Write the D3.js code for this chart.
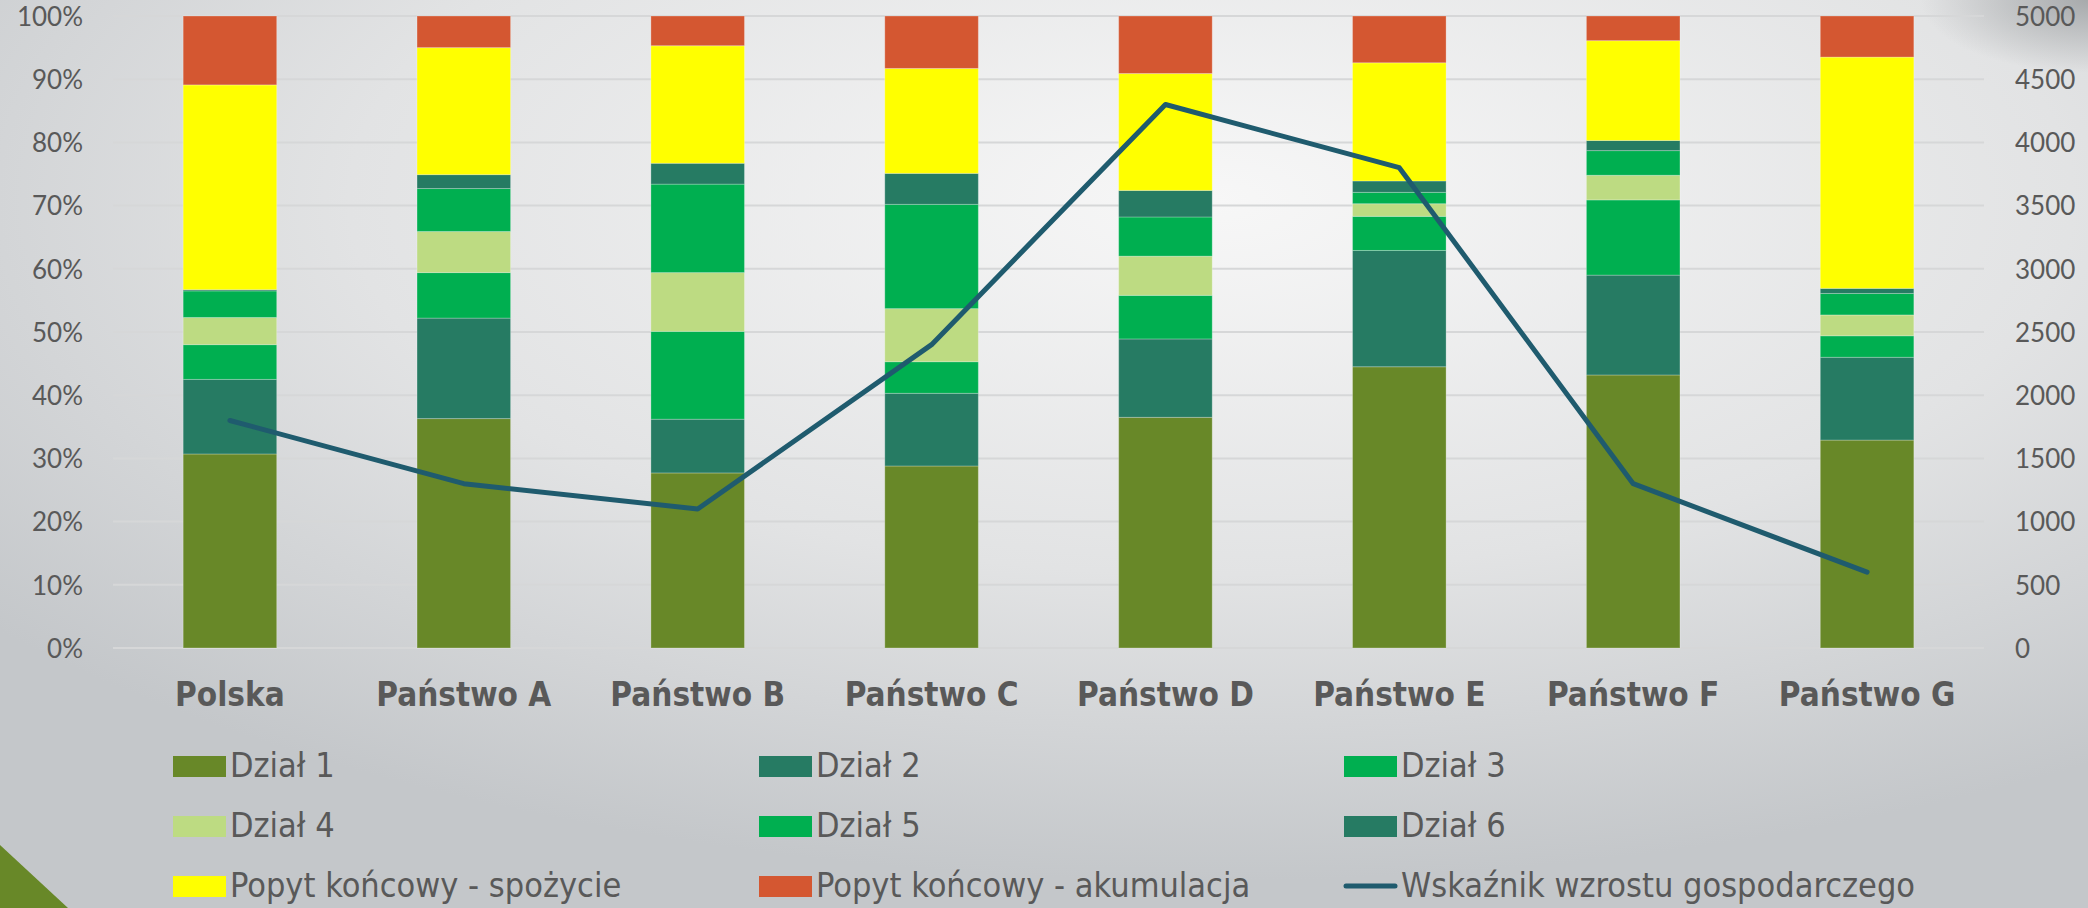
<!DOCTYPE html>
<html>
<head>
<meta charset="utf-8">
<script src="https://cdn.jsdelivr.net/npm/d3@7"></script>
<style>
  html, body { margin: 0; padding: 0; overflow: hidden; }
  body { width: 2088px; height: 908px; }
</style>
</head>
<body>
<div id="chart"></div>
<script>
// chart data (shares in %)
var categories = ["Polska", "Państwo A", "Państwo B", "Państwo C", "Państwo D", "Państwo E", "Państwo F", "Państwo G"];
var dzial1 = [30.7, 36.3, 27.7, 28.8, 36.5, 44.5, 43.2, 32.9];
var dzial2 = [11.8, 15.9, 8.5, 11.5, 12.4, 18.4, 15.8, 13.1];
var dzial3 = [5.5, 7.2, 13.9, 5.0, 6.9, 5.4, 11.9, 3.4];
var dzial4 = [4.3, 6.5, 9.3, 8.4, 6.2, 2.0, 3.9, 3.3];
var dzial5 = [4.2, 6.8, 14.0, 16.5, 6.2, 1.8, 3.9, 3.4];
var dzial6 = [0.2, 2.2, 3.3, 4.9, 4.2, 1.8, 1.6, 0.8];
var spozycie = [32.4, 20.1, 18.6, 16.6, 18.5, 18.7, 15.8, 36.6];
var akumulacja = [10.9, 5.0, 4.7, 8.3, 9.1, 7.4, 3.9, 6.5];
var wzrost = [1800, 1300, 1100, 2400, 4300, 3800, 1300, 600];

var seriesNames = ["Dział 1", "Dział 2", "Dział 3", "Dział 4", "Dział 5", "Dział 6",
                   "Popyt końcowy - spożycie", "Popyt końcowy - akumulacja"];
var seriesData = [dzial1, dzial2, dzial3, dzial4, dzial5, dzial6, spozycie, akumulacja];
var lineName = "Wskaźnik wzrostu gospodarczego";
var leftTicks = [0, .1, .2, .3, .4, .5, .6, .7, .8, .9, 1];
var rightTicks = [0, 500, 1000, 1500, 2000, 2500, 3000, 3500, 4000, 4500, 5000];

var colors = ["#688828", "#267b63", "#00af50", "#bddb82", "#00af50", "#267b63", "#ffff00", "#d45731"];
var lineColor = "#1f5b6e";
var textColor = "#595959";

var width = 2088, height = 908;
var margin = {top: 16, right: 104, bottom: 260, left: 113};

// build rows for d3.stack
var table = categories.map(function(c, i) {
    var row = {cat: c};
    seriesNames.forEach(function(s, j) { row[s] = seriesData[j][i]; });
    return row;
});

var stack = d3.stack().keys(seriesNames).offset(d3.stackOffsetExpand);
var layers = stack(table);

var svg = d3.select("#chart").append("svg")
    .attr("width", width)
    .attr("height", height);

// background
var defs = svg.append("defs");
var bg = defs.append("radialGradient").attr("id", "bg")
    .attr("cx", "58%").attr("cy", "22%").attr("r", "75%");
bg.append("stop").attr("offset", "0%").attr("stop-color", "#f7f7f7");
bg.append("stop").attr("offset", "55%").attr("stop-color", "#e2e3e4");
bg.append("stop").attr("offset", "100%").attr("stop-color", "#c4c7ca");
svg.append("rect").attr("width", width).attr("height", height).attr("fill", "url(#bg)");

var corner = defs.append("radialGradient").attr("id", "corner")
    .attr("cx", "100%").attr("cy", "0%").attr("r", "8%");
corner.append("stop").attr("offset", "0%").attr("stop-color", "#9a9d9f").attr("stop-opacity", 0.8);
corner.append("stop").attr("offset", "100%").attr("stop-color", "#9a9d9f").attr("stop-opacity", 0);
svg.append("rect").attr("width", width).attr("height", height).attr("fill", "url(#corner)");

// green slide corner
svg.append("path")
    .attr("d", "M0,845L68," + height + "L0," + height + "Z")
    .attr("fill", "#688828");

var x = d3.scaleBand()
    .domain(categories)
    .range([margin.left, width - margin.right])
    .paddingInner(0.6)
    .paddingOuter(0.3);

var y = d3.scaleLinear().domain([0, 1]).range([height - margin.bottom, margin.top]);
var y2 = d3.scaleLinear().domain([0, 5000]).range([height - margin.bottom, margin.top]);

// gridlines
svg.append("g")
    .selectAll("line")
    .data(leftTicks)
    .enter().append("line")
    .attr("x1", margin.left)
    .attr("x2", width - margin.right)
    .attr("y1", function(d) { return y(d); })
    .attr("y2", function(d) { return y(d); })
    .attr("stroke", "#d6d7d8")
    .attr("stroke-width", 2);

// stacked bars
svg.append("g")
    .selectAll("g")
    .data(layers)
    .enter().append("g")
    .attr("fill", function(d, i) { return colors[i]; })
    .selectAll("rect")
    .data(function(d) { return d; })
    .enter().append("rect")
    .attr("x", function(d) { return x(d.data.cat); })
    .attr("width", x.bandwidth())
    .attr("y", function(d) { return y(d[1]); })
    .attr("height", function(d) { return y(d[0]) - y(d[1]); })
    .attr("stroke", "rgba(255,255,255,0.25)")
    .attr("stroke-width", 1);

// line series on right axis
var line = d3.line()
    .x(function(d, i) { return x(categories[i]) + x.bandwidth() / 2; })
    .y(function(d) { return y2(d); });

svg.append("path")
    .datum(wzrost)
    .attr("d", line)
    .attr("fill", "none")
    .attr("stroke", lineColor)
    .attr("stroke-width", 5)
    .attr("stroke-linejoin", "round")
    .attr("stroke-linecap", "round");

// axes
var axisFont = "Lato, 'Open Sans', sans-serif";

var leftAxis = svg.append("g")
    .attr("transform", "translate(83,0)")
    .call(d3.axisLeft(y).tickValues(leftTicks).tickFormat(d3.format(".0%")).tickSize(0).tickPadding(0));
leftAxis.select(".domain").remove();
leftAxis.selectAll("text")
    .attr("fill", textColor)
    .attr("dy", "0.36em")
    .style("font-family", axisFont)
    .style("font-size", "26px");

var rightAxis = svg.append("g")
    .attr("transform", "translate(2015,0)")
    .call(d3.axisRight(y2).tickValues(rightTicks).tickFormat(d3.format("d")).tickSize(0).tickPadding(0));
rightAxis.select(".domain").remove();
rightAxis.selectAll("text")
    .attr("fill", textColor)
    .attr("dy", "0.36em")
    .style("font-family", axisFont)
    .style("font-size", "26px");

// category labels
svg.append("g")
    .selectAll("text")
    .data(categories)
    .enter().append("text")
    .attr("x", function(d) { return x(d) + x.bandwidth() / 2; })
    .attr("y", 706)
    .attr("text-anchor", "middle")
    .attr("fill", textColor)
    .style("font-family", "'Liberation Sans Narrow', 'DejaVu Sans Condensed', sans-serif")
    .style("font-weight", "bold")
    .style("font-size", "33px")
    .text(function(d) { return d; });

// legend
var legendItems = seriesNames.map(function(s, i) { return {name: s, color: colors[i], type: "rect"}; });
legendItems.push({name: lineName, color: lineColor, type: "line"});

var colX = [173, 759, 1344];
var rowY = [766, 826, 886];

var legend = svg.append("g")
    .selectAll("g")
    .data(legendItems)
    .enter().append("g")
    .attr("transform", function(d, i) {
        return "translate(" + colX[i % 3] + "," + rowY[Math.floor(i / 3)] + ")";
    });

legend.filter(function(d) { return d.type == "rect"; })
    .append("rect")
    .attr("x", 0)
    .attr("y", -10)
    .attr("width", 53)
    .attr("height", 21)
    .attr("fill", function(d) { return d.color; });

legend.filter(function(d) { return d.type == "line"; })
    .append("line")
    .attr("x1", 2)
    .attr("x2", 51)
    .attr("y1", 0)
    .attr("y2", 0)
    .attr("stroke", function(d) { return d.color; })
    .attr("stroke-width", 5)
    .attr("stroke-linecap", "round");

legend.append("text")
    .attr("x", 57)
    .attr("y", 11)
    .attr("fill", textColor)
    .style("font-family", "'Liberation Sans Narrow', 'DejaVu Sans Condensed', sans-serif")
    .style("font-size", "34px")
    .text(function(d) { return d.name; });
</script>
</body>
</html>
